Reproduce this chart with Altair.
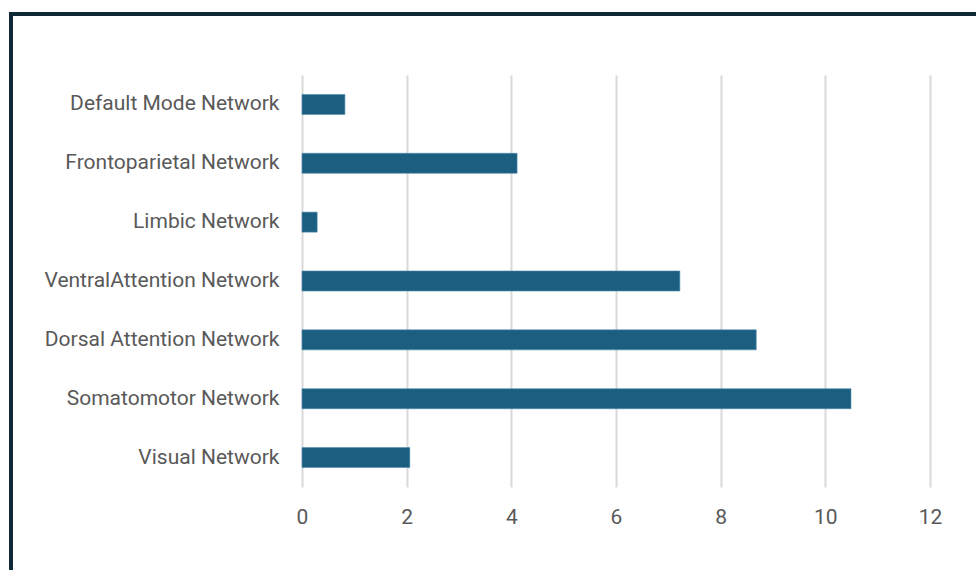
import altair as alt
import pandas as pd

# Brain networks and their values (top to bottom)
networks = [
    "Default Mode Network",
    "Frontoparietal Network",
    "Limbic Network",
    "VentralAttention Network",
    "Dorsal Attention Network",
    "Somatomotor Network",
    "Visual Network",
]
values = [0.82, 4.11, 0.29, 7.22, 8.68, 10.49, 2.06]
x_ticks = [0, 2, 4, 6, 8, 10, 12]

df = pd.DataFrame({"network": networks, "value": values})

FONT = "Roboto"
TEXT = "#595959"
BAR = "#1b5e80"

bars = alt.Chart(df).mark_bar(color=BAR, stroke="#4f8fae", strokeWidth=0.6).encode(
    x=alt.X(
        "value:Q",
        scale=alt.Scale(domain=[0, 12], nice=False, zero=True),
        axis=alt.Axis(
            values=x_ticks,
            title=None,
            grid=True,
            gridColor="#d9d9d9",
            gridWidth=2,
            domain=False,
            ticks=False,
            labelFlush=False,
            labelPadding=19,
            labelFont=FONT,
            labelFontSize=21,
            labelColor=TEXT,
        ),
    ),
    y=alt.Y(
        "network:N",
        sort=networks,
        scale=alt.Scale(paddingInner=0.66, paddingOuter=0.33),
        axis=alt.Axis(
            title=None,
            domain=False,
            ticks=False,
            labelPadding=23,
            labelFont=FONT,
            labelFontSize=21,
            labelColor=TEXT,
            labelLimit=400,
        ),
    ),
)

# Dark outer frame around the whole figure
frame = alt.Chart(pd.DataFrame({"k": [0]})).mark_rect(
    fill=None, stroke="#0f2937", strokeWidth=4
).encode(
    x=alt.value(-291),
    x2=alt.value(690),
    y=alt.value(-61),
    y2=alt.value(510),
)

chart = (
    alt.layer(bars, frame)
    .properties(
        width=628,
        height=412,
        padding={"left": 302, "top": 75, "right": 46, "bottom": 83},
        autosize=alt.AutoSizeParams(type="none"),
        background="white",
    )
    .configure_view(stroke=None)
)

chart.save("out.html", embed_options={"renderer": "svg", "actions": False})
